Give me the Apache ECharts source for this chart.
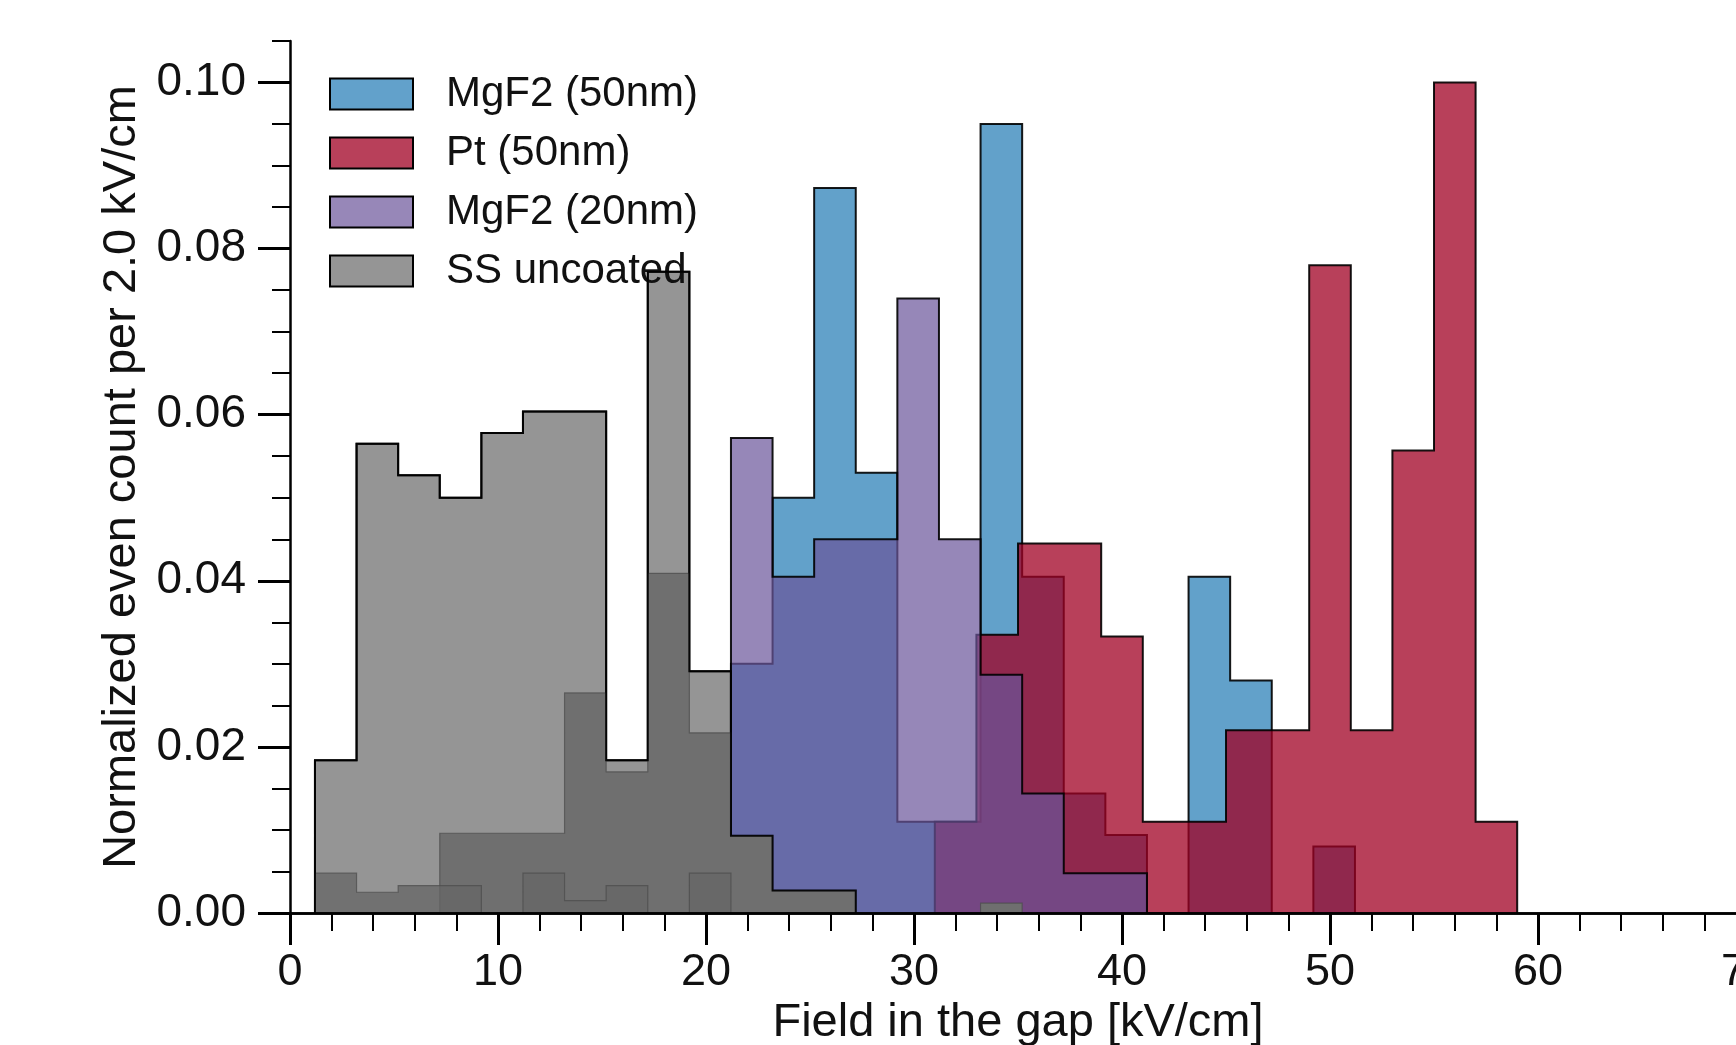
<!DOCTYPE html>
<html>
<head>
<meta charset="utf-8">
<title>Field in the gap histogram</title>
<script src="https://cdn.jsdelivr.net/npm/echarts@6/dist/echarts.min.js"></script>
<style>
  html, body { margin: 0; padding: 0; background: #fff; }
  #chart { width: 1736px; height: 1045px; }
</style>
</head>
<body>
<div id="chart"></div>
<script>
// bin width of every histogram, kV/cm
const binWidth = 2;

// first bin edge of each histogram
const ssStart = 1.2;
const mgf50Start = 21.2;
const mgf20Start = 21.2;
const ptStart = 31;

// SS uncoated (outlined), then the two extra stainless runs
const ssUncoated = [0.0184, 0.0565, 0.0527, 0.0500, 0.0578, 0.0604, 0.0604, 0.0184, 0.0772, 0.0291, 0.0093, 0.0027, 0.0027];
const ssRun2 = [0, 0, 0, 0.0096, 0.0096, 0.0096, 0.0265, 0.0170, 0.0409, 0.0217, 0.0093, 0.0027, 0.0027, 0, 0, 0, 0.0012];
const ssRun3 = [0.0048, 0.0025, 0.0033, 0.0033, 0, 0.0048, 0.0015, 0.0033, 0, 0.0048];

// MgF2 (50nm), from 21.2
const mgf50 = [0.030, 0.050, 0.0873, 0.053, 0.011, 0.011, 0.095, 0.0405, 0.0144, 0.0094, 0, 0.0405, 0.028, 0, 0.008];
// MgF2 (20nm), from 21.2
const mgf20 = [0.0572, 0.0405, 0.045, 0.045, 0.074, 0.045, 0.0287, 0.0144, 0.0048, 0.0048];
// Pt (50nm), from 31
const pt50 = [0.011, 0.0335, 0.0445, 0.0445, 0.0333, 0.011, 0.011, 0.022, 0.022, 0.078, 0.022, 0.0557, 0.100, 0.011];

// axis ticks
const yMajorTicks = [0, 0.02, 0.04, 0.06, 0.08, 0.1];

const FONT = 'Liberation Sans, Arial, sans-serif';

// staircase outline of a histogram, closed down to zero at both ends
function histPoints(start, values) {
    const pts = [[start, 0]];
    values.forEach((v, i) => {
        const x0 = +(start + i * binWidth).toFixed(3);
        const x1 = +(x0 + binWidth).toFixed(3);
        pts.push([x0, v], [x1, v]);
    });
    pts.push([+(start + values.length * binWidth).toFixed(3), 0]);
    return pts;
}

function histSeries(name, start, values, fill, opacity, edge, z) {
    const s = {
        type: 'line',
        name: name,
        data: histPoints(start, values),
        symbol: 'none',
        showSymbol: false,
        silent: true,
        animation: false,
        z: z,
        lineStyle: edge,
        emphasis: { disabled: true }
    };
    if (fill) {
        s.areaStyle = { color: fill, opacity: opacity };
    }
    return s;
}

const blackEdge = { color: '#000', width: 2, join: 'miter', opacity: 0.9 };
const faintEdge = { color: '#4a4a4a', width: 1.2, join: 'miter', opacity: 0.7 };

const chart = echarts.init(document.getElementById('chart'));

const option = {
    animation: false,
    backgroundColor: '#fff',
    grid: {
        left: 290,
        top: 41,
        width: 1456,
        height: 872,
        containLabel: false,
        outerBoundsMode: 'none'
    },
    legend: {
        orient: 'vertical',
        left: 329,
        top: 73,
        itemWidth: 83,
        itemHeight: 31,
        itemGap: 17,
        padding: 0,
        selectedMode: false,
        icon: 'rect',
        textStyle: {
            fontFamily: FONT,
            fontSize: 42,
            color: '#111',
            padding: [0, 0, 0, 28]
        },
        data: [
            { name: 'MgF2 (50nm)', icon: 'rect', itemStyle: { color: '#62a1cb', borderColor: '#000', borderWidth: 2 } },
            { name: 'Pt (50nm)', icon: 'rect', itemStyle: { color: '#b8405a', borderColor: '#000', borderWidth: 2 } },
            { name: 'MgF2 (20nm)', icon: 'rect', itemStyle: { color: '#9787b8', borderColor: '#000', borderWidth: 2 } },
            { name: 'SS uncoated', icon: 'rect', itemStyle: { color: '#959595', borderColor: '#000', borderWidth: 2 } }
        ]
    },
    xAxis: [{
        type: 'value',
        min: 0,
        max: 70,
        interval: 10,
        position: 'bottom',
        z: 10,
        name: 'Field in the gap [kV/cm]',
        nameLocation: 'middle',
        nameGap: 73,
        nameTextStyle: { fontFamily: FONT, fontSize: 47, color: '#111' },
        axisLine: { lineStyle: { color: '#000', width: 2.5 } },
        axisTick: { length: 32, lineStyle: { color: '#000', width: 3 } },
        minorTick: { show: true, splitNumber: 5, length: 18, lineStyle: { color: '#000', width: 2 } },
        splitLine: { show: false },
        minorSplitLine: { show: false },
        axisLabel: { fontFamily: FONT, fontSize: 45, color: '#111', margin: 37 }
    }, {
        type: 'value',
        min: 0,
        max: 70,
        interval: 10,
        position: 'top',
        z: 10,
        axisLine: { lineStyle: { color: '#000', width: 2.5 } },
        axisTick: { show: false },
        axisLabel: { show: false },
        splitLine: { show: false }
    }],
    yAxis: [{
        type: 'value',
        min: 0,
        max: 0.105,
        interval: 0.02,
        position: 'left',
        z: 10,
        name: 'Normalized even count per 2.0 kV/cm',
        nameLocation: 'middle',
        nameGap: 140,
        nameTextStyle: { fontFamily: FONT, fontSize: 47, color: '#111' },
        axisLine: { lineStyle: { color: '#000', width: 2.5 } },
        axisTick: { length: 32, lineStyle: { color: '#000', width: 3 }, customValues: yMajorTicks },
        splitLine: { show: false },
        axisLabel: {
            fontFamily: FONT,
            fontSize: 46,
            color: '#111',
            margin: 44,
            customValues: yMajorTicks,
            formatter: v => v.toFixed(2)
        }
    }, {
        type: 'value',
        min: 0,
        max: 0.105,
        interval: 0.005,
        position: 'left',
        z: 10,
        axisLine: { show: false },
        axisTick: { length: 18, lineStyle: { color: '#000', width: 2 } },
        axisLabel: { show: false },
        splitLine: { show: false }
    }],
    series: [
        histSeries('SS uncoated', ssStart, ssUncoated, '#959595', 1, blackEdge, 2),
        histSeries('MgF2 (50nm)', mgf50Start, mgf50, '#1f79b4', 0.7, blackEdge, 3),
        histSeries('Pt (50nm)', ptStart, pt50, '#a00023', 0.75, blackEdge, 4),
        histSeries('MgF2 (20nm)', mgf20Start, mgf20, '#6a549a', 0.7, blackEdge, 5),
        histSeries('SS run 2', ssStart, ssRun2, '#6f6f6f', 1, faintEdge, 6),
        histSeries('SS run 3', ssStart, ssRun3, '#666666', 0.75, faintEdge, 7),
        // outline of SS uncoated redrawn over the stacked grey runs
        histSeries('SS outline', ssStart, ssUncoated, null, 0, blackEdge, 8)
    ]
};

chart.setOption(option);
</script>
</body>
</html>
